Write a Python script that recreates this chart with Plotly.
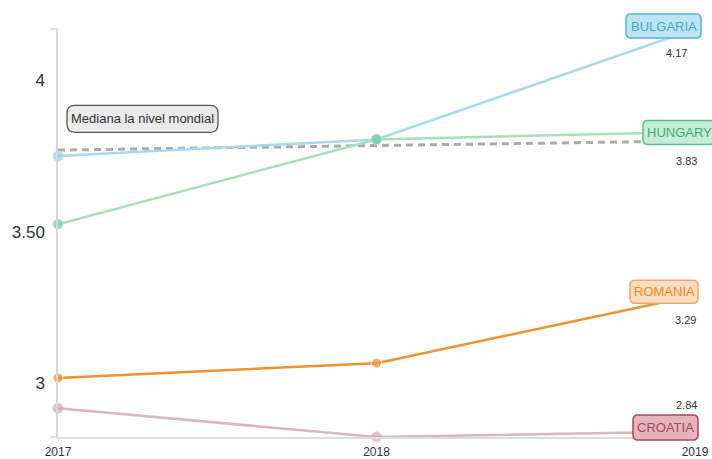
import plotly.graph_objects as go

years = [2017, 2018, 2019]
bulgaria = [3.75, 3.805, 4.17]
hungary = [3.525, 3.805, 3.83]
romania = [3.017, 3.066, 3.29]
croatia = [2.917, 2.822, 2.84]
median = [3.77, 3.785, 3.80]

ytick_vals = [3, 3.5, 4]
ytick_text = ["3", "3.50", "4"]
x_range = [2017, 2019]
y_range = [2.822, 4.17]

FONT = "Liberation Sans, Arial"


def px(xv):
    return (xv - x_range[0]) / (x_range[1] - x_range[0])


def py(yv):
    return (yv - y_range[0]) / (y_range[1] - y_range[0])


def rounded_path(x0, x1, y0, y1, r):
    # pixel offsets relative to an anchor; y positive upward
    return (f"M {x0 + r},{y1} L {x1 - r},{y1} Q {x1},{y1} {x1},{y1 - r} "
            f"L {x1},{y0 + r} Q {x1},{y0} {x1 - r},{y0} "
            f"L {x0 + r},{y0} Q {x0},{y0} {x0},{y0 + r} "
            f"L {x0},{y1 - r} Q {x0},{y1} {x0 + r},{y1} Z")


# name, values, line colour, marker colour, text colour, fill, border,
# box (x0, x1, y0, y1) in px from end point, text shift (x, y), value shift (x, y)
series = [
    ("BULGARIA", bulgaria, "#A8D9EE", "#8ECFEA", "#4AA6CF", "#BDE5F6", "#58B2DA",
     (-69, 6, -9, 15), (-31.5, 3), (-19, -24)),
    ("HUNGARY", hungary, "#A9DFBD", "#72CBA6", "#3FAE72", "#C6EDD5", "#5CC08A",
     (-52, 20, -12.5, 11.5), (-15.5, -0.5), (-9, -29.5)),
    ("ROMANIA", romania, "#F0912E", "#F0912E", "#EE8A2A", "#FCDCBE", "#F2A766",
     (-65, 3, -8, 15), (-31, 3.5), (-10, -25)),
    ("CROATIA", croatia, "#DDB5BE", "#D3A6B1", "#A8485A", "#E7B3BD", "#A34A5C",
     (-62, 3, -8.5, 16.5), (-29.5, 4), (-9, 26.5)),
]

fig = go.Figure()

fig.add_trace(go.Scatter(
    x=years, y=median, mode="lines",
    line=dict(color="#ABABAB", width=3, dash="7px,5px"),
    hoverinfo="skip", showlegend=False, cliponaxis=False,
))

for name, vals, lc, mc, tc, fill, border, box, tsh, vsh in series:
    fig.add_trace(go.Scatter(
        x=years, y=vals, mode="lines+markers", name=name,
        line=dict(color=lc, width=2.5),
        marker=dict(color=mc, size=[10, 10, 0]),
        showlegend=False, cliponaxis=False,
    ))
    fig.add_shape(
        type="path", xref="paper", yref="paper", xsizemode="pixel", ysizemode="pixel",
        xanchor=px(years[-1]), yanchor=py(vals[-1]),
        path=rounded_path(*box, 5),
        fillcolor=fill, line=dict(color=border, width=1.5), layer="above",
    )
    fig.add_annotation(
        x=years[-1], y=vals[-1], xref="x", yref="y",
        text=name, showarrow=False, xshift=tsh[0], yshift=tsh[1],
        font=dict(family=FONT, size=13, color=tc),
    )
    fig.add_annotation(
        x=years[-1], y=vals[-1], xref="x", yref="y",
        text=f"{vals[-1]:.2f}", showarrow=False, xshift=vsh[0], yshift=vsh[1],
        font=dict(family=FONT, size=11, color="#333333"),
    )

median_label_y = 3.875
fig.add_shape(
    type="path", xref="paper", yref="paper", xsizemode="pixel", ysizemode="pixel",
    xanchor=px(years[0]), yanchor=py(median_label_y),
    path=rounded_path(9, 160, -14, 13, 8),
    fillcolor="#EBEBEB", line=dict(color="#5A5A5A", width=1.3), layer="above",
)
fig.add_annotation(
    x=years[0], y=median_label_y, xref="x", yref="y",
    text="Mediana la nivel mondial", showarrow=False, xshift=84.5, yshift=0,
    font=dict(family=FONT, size=13, color="#333333"),
)

# small axis-end stubs to the left of the y axis
for yv in y_range:
    fig.add_shape(
        type="line", xref="paper", yref="paper", xsizemode="pixel",
        xanchor=0, x0=-8, x1=0, y0=py(yv), y1=py(yv),
        line=dict(color="#D5D8DC", width=1.5), layer="below",
    )

fig.update_layout(
    width=712, height=459,
    margin=dict(l=58, r=17, t=29, b=22, pad=0, autoexpand=False),
    paper_bgcolor="white", plot_bgcolor="white",
    font=dict(family=FONT, color="#333333"),
    xaxis=dict(
        range=x_range, tickvals=years, ticktext=[str(y) for y in years],
        showgrid=False, zeroline=False, showline=True, linecolor="#DDDDDD", linewidth=1.5,
        ticks="outside", ticklen=3, tickcolor="#DDDDDD", automargin=False,
        tickfont=dict(size=12, color="#333333"),
    ),
    yaxis=dict(
        range=y_range, tickvals=ytick_vals, ticktext=ytick_text,
        showgrid=False, zeroline=False, showline=True, linecolor="#D5D8DC", linewidth=1.5,
        ticks="", automargin=False, ticklabelstandoff=8,
        tickfont=dict(size=17, color="#333333"),
    ),
)

fig.write_html(
    "out.html",
    config={"displayModeBar": False},
    post_script="document.body.style.margin='0';document.body.style.overflow='hidden';",
)
